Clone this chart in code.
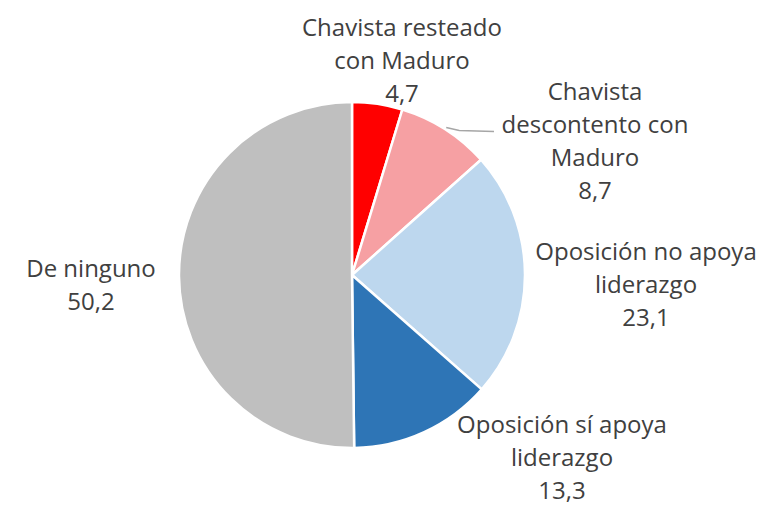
<!DOCTYPE html>
<html>
<head>
<meta charset="utf-8">
<script src="https://cdn.jsdelivr.net/npm/d3@7"></script>
<style>
  html, body { margin: 0; padding: 0; background: #fff; }
  text { font-family: 'Open Sans', 'Noto Sans', sans-serif; fill: #404040; }
</style>
</head>
<body>
<div id="chart-pie"></div>
<script>
// Data
const categories = [
  ['Chavista resteado', 'con Maduro'],
  ['Chavista', 'descontento con', 'Maduro'],
  ['Oposición no apoya', 'liderazgo'],
  ['Oposición sí apoya', 'liderazgo'],
  ['De ninguno']
]
const values = [4.7, 8.7, 23.1, 13.3, 50.2]
const valueLabels = ['4,7', '8,7', '23,1', '13,3', '50,2']
const colors = ['#ff0000', '#f6a0a3', '#bdd7ee', '#2e75b6', '#bfbfbf']

// Layout
const width = 770
const height = 506
const center = { x: 352, y: 275 }
const radius = 173
const lineHeight = 33
// label anchor: centre x and first baseline
const labelPos = [
  { x: 402, y: 36 },
  { x: 595, y: 100 },
  { x: 646, y: 260 },
  { x: 562, y: 433 },
  { x: 91, y: 277 }
]

const svg = d3
  .select('#chart-pie')
  .append('svg')
  .attr('width', width)
  .attr('height', height)

const pie = d3
  .pie()
  .sort(null)
  .value(d => d)

const arc = d3
  .arc()
  .innerRadius(0)
  .outerRadius(radius)

const arcs = pie(values)

const g = svg
  .append('g')
  .attr('transform', 'translate(' + center.x + ',' + center.y + ')')

g.selectAll('path')
  .data(arcs)
  .enter()
  .append('path')
  .attr('d', arc)
  .attr('fill', (d, i) => colors[i])
  .attr('stroke', '#fff')
  .attr('stroke-width', 2.5)
  .attr('stroke-linejoin', 'round')

// leader line for the second slice
const lead = arcs[1]
const mid = (lead.startAngle + lead.endAngle) / 2
const x0 = center.x + (radius + 2) * Math.sin(mid)
const y0 = center.y - (radius + 2) * Math.cos(mid)
svg
  .append('polyline')
  .attr('points', [[x0, y0], [x0 + 13, y0 + 3], [labelPos[1].x - 101, y0 + 4]].join(' '))
  .attr('fill', 'none')
  .attr('stroke', '#a6a6a6')
  .attr('stroke-width', 1.5)

// labels
const labels = svg
  .selectAll('.pie-label')
  .data(arcs)
  .enter()
  .append('text')
  .attr('class', 'pie-label')
  .attr('text-anchor', 'middle')
  .attr('font-size', 24)

labels
  .selectAll('tspan')
  .data((d, i) => categories[i].concat([valueLabels[i]]).map(t => ({ t, i })))
  .enter()
  .append('tspan')
  .attr('x', d => labelPos[d.i].x)
  .attr('y', (d, j) => labelPos[d.i].y + j * lineHeight)
  .text(d => d.t)
</script>
</body>
</html>
